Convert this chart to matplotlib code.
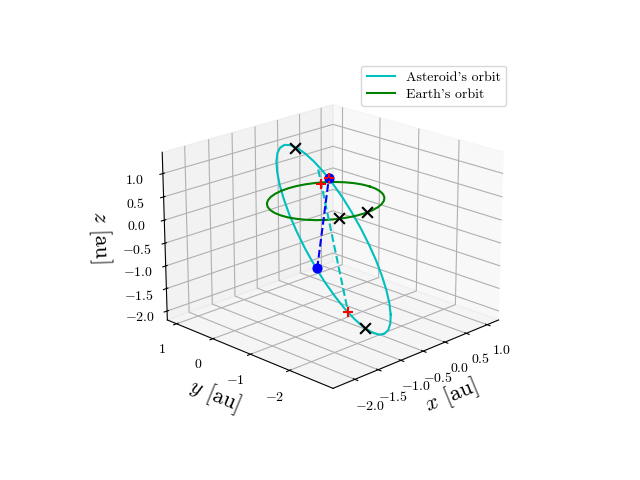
import matplotlib
matplotlib.use("Agg")
import matplotlib.pyplot as plt

plt.rcParams["font.family"] = "serif"
plt.rcParams["font.serif"] = ["cmr10", "DejaVu Serif"]
plt.rcParams["mathtext.fontset"] = "cm"
plt.rcParams["axes.unicode_minus"] = False

# asteroid's orbit
ast_x = [0.118, -0.044, -0.214, -0.389, -0.562, -0.727, -0.881, -1.019, -1.136, -1.228, -1.294, -1.329,
         -1.335, -1.311, -1.258, -1.175, -1.068, -0.938, -0.790, -0.628, -0.458, -0.283, -0.110, 0.055,
         0.209, 0.347, 0.464, 0.556, 0.622, 0.657, 0.663, 0.639, 0.586, 0.503, 0.396, 0.266, 0.118]
ast_y = [-1.596, -1.766, -1.899, -1.995, -2.050, -2.061, -2.029, -1.955, -1.841, -1.689, -1.505, -1.297,
         -1.065, -0.823, -0.574, -0.327, -0.089, 0.132, 0.330, 0.500, 0.633, 0.729, 0.784, 0.795,
         0.763, 0.689, 0.575, 0.423, 0.239, 0.031, -0.201, -0.443, -0.692, -0.939, -1.177, -1.398, -1.596]
ast_z = [-2.119, -2.206, -2.241, -2.226, -2.159, -2.044, -1.884, -1.684, -1.451, -1.188, -0.907, -0.616,
         -0.322, -0.036, 0.233, 0.480, 0.695, 0.872, 1.005, 1.092, 1.127, 1.112, 1.045, 0.930,
         0.770, 0.570, 0.337, 0.074, -0.207, -0.498, -0.792, -1.078, -1.347, -1.594, -1.809, -1.986, -2.119]

# earth's orbit
earth_x = [1.045, 1.03, 0.984, 0.909, 0.807, 0.683, 0.538, 0.377, 0.207, 0.03, -0.147, -0.317, -0.478, -0.623,
           -0.747, -0.849, -0.924, -0.97, -0.985, -0.97, -0.924, -0.849, -0.747, -0.623, -0.478, -0.317,
           -0.147, 0.03, 0.207, 0.377, 0.538, 0.683, 0.807, 0.909, 0.984, 1.03, 1.045]
earth_y = [0.0, 0.177, 0.347, 0.508, 0.653, 0.777, 0.879, 0.954, 1.0, 1.015, 1.0, 0.954, 0.879, 0.777,
           0.653, 0.508, 0.347, 0.177, 0.0, -0.177, -0.347, -0.508, -0.653, -0.777, -0.879, -0.954,
           -1.0, -1.015, -1.0, -0.954, -0.879, -0.777, -0.653, -0.508, -0.347, -0.177, 0.0]
earth_z = [-0.02] * 37

# black crosses
cross_x = [-0.007, -0.466, 0.07, -0.845]
cross_y = [0.782, -0.913, -1.032, -2.024]
cross_z = [0.947, 0.0, 0.0, -1.92]

# red plus signs
plus_x = [0.61, -1.10, 0.49]
plus_y = [0.8, -1.878, 0.455]
plus_z = [-0.04, -1.524, 0.22]

# dashed lines
blue_x = [-1.28, 0.49]
blue_y = [-1.305, 0.455]
blue_z = [-0.692, 0.22]
node_x = [0.332, -1.10]
node_y = [0.557, -1.878]
node_z = [0.432, -1.524]

x_ticks = [-2.0, -1.5, -1.0, -0.5, 0.0, 0.5, 1.0]
x_labels = ["$-2.0$", "$-1.5$", "$-1.0$", "$-0.5$", "$0.0$", "$0.5$", "$1.0$"]
y_ticks = [-2, -1, 0, 1]
y_labels = ["$-2$", "$-1$", "$0$", "$1$"]
z_ticks = [-2.0, -1.5, -1.0, -0.5, 0.0, 0.5, 1.0]
z_labels = x_labels

fig = plt.figure(figsize=(6.4, 4.8), dpi=100)
ax = fig.add_subplot(projection="3d")
ax.computed_zorder = False
ax.view_init(elev=20, azim=-135)

ax.plot(ast_x, ast_y, ast_z, "c", label="Asteroid's orbit", zorder=2)
ax.plot(earth_x, earth_y, earth_z, "g", label="Earth's orbit", zorder=2)
ax.plot(node_x, node_y, node_z, "c--", zorder=2)
ax.scatter(blue_x, blue_y, blue_z, c="b", s=40, depthshade=False, zorder=3)
ax.scatter(plus_x, plus_y, plus_z, c="r", marker="+", s=60, depthshade=False, zorder=4)
ax.scatter(cross_x, cross_y, cross_z, c="k", marker="x", s=60, depthshade=False, zorder=4)
ax.plot(blue_x, blue_y, blue_z, "b--", zorder=5)

ax.set_xlim(-2.46, 1.28)
ax.set_ylim(-3.07, 1.26)
ax.set_zlim(-2.2, 1.45)
ax.set_xticks(x_ticks)
ax.set_xticklabels(x_labels)
ax.set_yticks(y_ticks)
ax.set_yticklabels(y_labels)
ax.set_zticks(z_ticks)
ax.set_zticklabels(z_labels)
ax.set_xlabel("$x$ [au]", fontsize=16)
ax.set_ylabel("$y$ [au]", fontsize=16)
ax.set_zlabel("$z$ [au]", fontsize=16, labelpad=5.5)
ax.legend(loc="upper right", bbox_to_anchor=(0.802, 0.878), bbox_transform=fig.transFigure, labelspacing=0.3)

plt.savefig("out.png")
